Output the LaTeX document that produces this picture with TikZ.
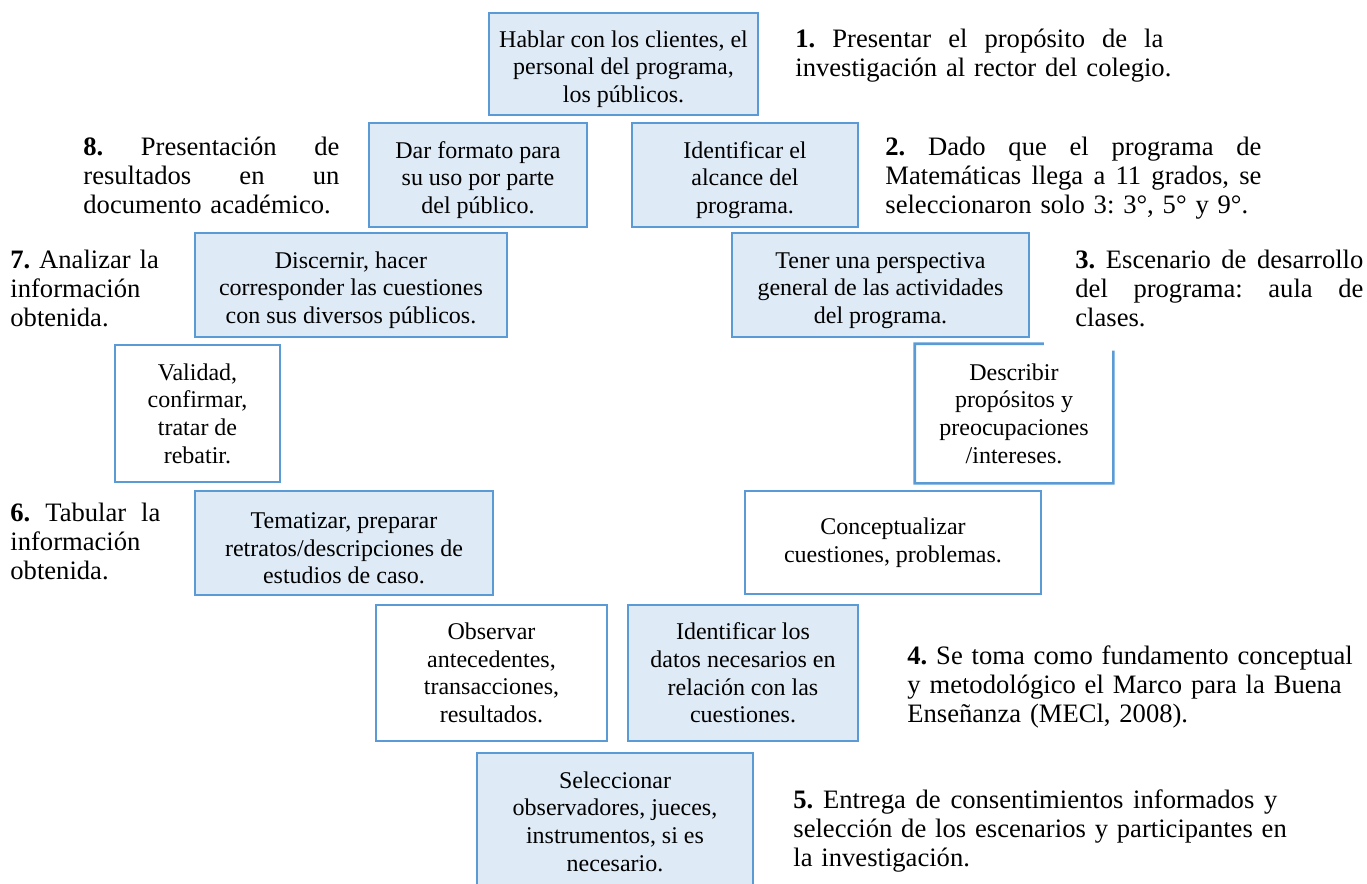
\documentclass[tikz,border=0pt]{standalone}
\usepackage{fontspec}
\setmainfont{Liberation Serif}
\usetikzlibrary{calc}
\definecolor{boxline}{HTML}{5B9BD5}
\definecolor{boxfill}{HTML}{DEEBF7}
\frenchspacing
\newcommand\justline[2]{\leavevmode\hbox to #1{\spaceskip=0.25em plus 1fil\xspaceskip=0.25em plus 1fil\relax #2}}
\newcommand\toppad{\rule{0pt}{13.3pt}}
\begin{document}
\begin{tikzpicture}[x=0.5pt,y=-0.5pt,
  box/.style={draw=boxline,line width=1.3pt,align=center,inner sep=0pt,
    font=\fontsize{12}{13.8}\selectfont},
  bluebox/.style={box,fill=boxfill},
  whitebox/.style={box,fill=white},
  lbl/.style={anchor=base west,inner sep=0pt,align=left,
    font=\fontsize{13.3}{14.5}\selectfont}]
\useasboundingbox (0,0) rectangle (1367,884);

% boxes
\node[bluebox,minimum width=134.5pt,minimum height=51pt] (A) at (623.5,64)
  {\toppad Hablar con los clientes, el\\personal del programa,\\los públicos.};
\node[bluebox,minimum width=109pt,minimum height=52pt] (B) at (478,175)
  {\toppad Dar formato para\\su uso por parte\\del público.};
\node[bluebox,minimum width=113pt,minimum height=52pt] (C) at (745,175)
  {\toppad Identificar el\\alcance del\\programa.};
\node[bluebox,minimum width=156pt,minimum height=52pt] (D) at (351,285)
  {\toppad Discernir, hacer\\corresponder las cuestiones\\con sus diversos públicos.};
\node[bluebox,minimum width=148.5pt,minimum height=52pt] (E) at (880.5,285)
  {\toppad Tener una perspectiva\\general de las actividades\\del programa.};
\node[whitebox,minimum width=82.5pt,minimum height=68.5pt] (F) at (197.5,413.5)
  {Validad,\\confirmar,\\tratar de\\rebatir.};
\node[box,draw=none,fill=white,minimum width=98pt,minimum height=68.5pt] (G) at (1014,413.5)
  {Describir\\propósitos y\\preocupaciones\\/intereses.};
\draw[boxline,line width=1.3pt] ($(G.north west)!0.65!(G.north east)$) -- (G.north west)
  -- (G.south west) -- (G.south east) -- ($(G.north east)+(0,7)$);
\node[bluebox,minimum width=149pt,minimum height=52pt] (H) at (344,543)
  {\toppad Tematizar, preparar\\retratos/descripciones de\\estudios de caso.};
\node[whitebox,minimum width=148pt,minimum height=51.5pt] (I) at (893,542.5)
  {Conceptualizar\\cuestiones, problemas.};
\node[whitebox,minimum width=115.5pt,minimum height=68pt] (J) at (491.5,673)
  {Observar\\antecedentes,\\transacciones,\\resultados.};
\node[bluebox,minimum width=115pt,minimum height=68pt] (K) at (743,673)
  {Identificar los\\datos necesarios en\\relación con las\\cuestiones.};
\node[bluebox,minimum width=138pt,minimum height=68.5pt] (L) at (615,821.5)
  {Seleccionar\\observadores, jueces,\\instrumentos, si es\\necesario.};

% labels
\node[lbl,text width=200pt] (l1) at (795,47)
  {\justline{184pt}{\textbf{1.} Presentar el propósito de la}\\investigación al rector del colegio.};
\node[lbl,text width=200pt] (l2) at (885,155)
  {\justline{188pt}{\textbf{2.} Dado que el programa de}\\\justline{188pt}{Matemáticas llega a 11 grados, se}\\seleccionaron solo 3: 3°, 5° y 9°.};
\node[lbl,text width=146pt] (l3) at (1075,268)
  {\justline{144pt}{\textbf{3.} Escenario de desarrollo}\\\justline{144pt}{del programa: aula de}\\clases.};
\node[lbl,text width=240pt] (l4) at (907,664)
  {\textbf{4.} Se toma como fundamento conceptual\\y metodológico el Marco para la Buena\\Enseñanza (MECl, 2008).};
\node[lbl,text width=260pt] (l5) at (793,808)
  {\justline{242pt}{\textbf{5.} Entrega de consentimientos informados y}\\selección de los escenarios y participantes en\\la investigación.};
\node[lbl,text width=90pt] (l6) at (10,521)
  {\justline{75pt}{\textbf{6.} Tabular la}\\información\\obtenida.};
\node[lbl,text width=90pt] (l7) at (10,268)
  {\textbf{7.} Analizar la\\información\\obtenida.};
\node[lbl,text width=140pt] (l8) at (83,155)
  {\justline{128pt}{\textbf{8.} Presentación de}\\\justline{128pt}{resultados en un}\\documento académico.};
\end{tikzpicture}
\end{document}
